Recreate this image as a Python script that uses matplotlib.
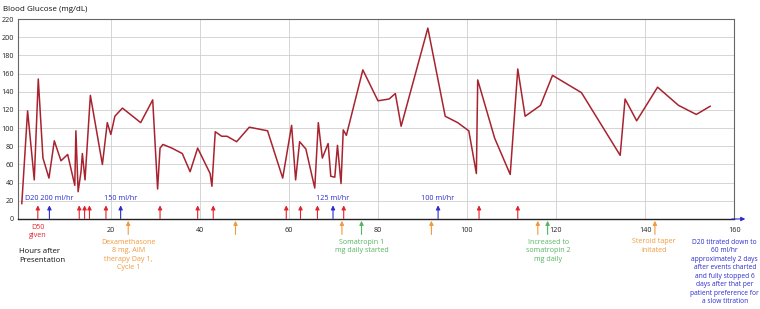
import matplotlib.pyplot as plt

plt.rcParams['font.family'] = ['Open Sans', 'DejaVu Sans']

# blood glucose readings (hours after presentation, mg/dL)
hours = [0, 1.3, 2.8, 3.7, 4.75, 6.1, 7.3, 8.8, 10.3, 11.9, 12.15, 12.65, 13.3, 13.6, 14.2,
         15.4, 18.1, 19.2, 20.0, 20.9, 22.6, 26.7, 29.4, 30.5, 31.05, 31.7, 33.7, 36.05,
         37.8, 39.5, 42.3, 42.7, 43.45, 44.9, 46.1, 48.25, 51.1, 55.2, 58.6, 60.6, 61.5,
         62.4, 63.8, 65.8, 66.6, 67.5, 68.8, 69.4, 70.3, 70.9, 71.7, 72.2, 72.9, 76.6,
         80.0, 82.5, 83.9, 85.2, 91.2, 95.1, 97.9, 100.4, 102.1, 102.4, 106.2, 109.7,
         111.4, 113.05, 116.5, 119.2, 125.7, 134.4, 135.5, 138.1, 142.8, 147.5, 151.5, 154.6]
glucose = [17, 119, 43, 154, 67, 45, 86, 64, 71, 37, 97, 30, 52, 72, 43,
           136, 60, 106, 93, 113, 122, 106, 131, 33, 78, 82, 78, 72,
           52, 78, 50, 36, 96, 91, 91, 85, 101, 97, 45, 103, 43,
           85, 77, 34, 106, 67, 83, 47, 46, 81, 39, 98, 92, 164,
           130, 132, 138, 102, 210, 113, 106, 97, 50, 153, 89, 49,
           165, 113, 125, 158, 139, 70, 132, 108, 145, 125, 115, 124]

red_events = [3.6, 12.9, 14.1, 15.2, 18.9, 31.05, 39.5, 43.0, 59.4, 62.6, 66.4, 72.3, 102.7, 111.4]
blue_events = [6.2, 22.2, 69.9, 93.5]
blue_labels = ['D20 200 ml/hr', '150 ml/hr', '125 ml/hr', '100 ml/hr']
orange_events = [23.9, 48.0, 71.9, 92.0, 115.9, 142.2]
green_events = [76.3, 118.1]

RED = '#e3222c'
BLUE = '#2b2bd0'
ORANGE = '#f09a3e'
GREEN = '#55b560'
LINE = '#a8232f'

fig = plt.figure(figsize=(7.6, 3.09), dpi=100)
ax = fig.add_axes([0.024, 0.2913, 0.942, 0.6472])

ax.plot(hours, glucose, color=LINE, lw=1.1, zorder=3)

ax.set_xlim(-0.8, 160)
ax.set_ylim(0, 220)
ax.set_xticks(range(20, 161, 20))
ax.set_yticks(range(0, 221, 20))
ax.grid(True, color='#cfcfcf', lw=0.6)
ax.set_axisbelow(True)
ax.tick_params(length=0, labelsize=5.2, colors='#222222')
ax.tick_params(axis='x', pad=6)
ax.tick_params(axis='y', pad=3)
for s in ['top', 'right', 'left']:
    ax.spines[s].set_color('#666666')
    ax.spines[s].set_linewidth(0.8)
ax.spines['bottom'].set_color('#222222')
ax.spines['bottom'].set_linewidth(1.0)


def up_arrow(t, y0, y1, c):
    ax.annotate('', xy=(t, y1), xytext=(t, y0), annotation_clip=False,
                arrowprops=dict(arrowstyle='-|>', color=c, lw=0.8, mutation_scale=6,
                                shrinkA=0, shrinkB=0))


for t in red_events:
    up_arrow(t, 0.5, 15, RED)
for t in blue_events:
    up_arrow(t, 0.5, 15, BLUE)
for t in orange_events:
    up_arrow(t, -17, -2, ORANGE)
for t in green_events:
    up_arrow(t, -17, -2, GREEN)

# x axis arrow going on past the chart
ax.annotate('', xy=(162.5, 0), xytext=(159.5, 0), annotation_clip=False,
            arrowprops=dict(arrowstyle='-|>', color=BLUE, lw=0.8, mutation_scale=6,
                            shrinkA=0, shrinkB=0))

for t, lab in zip(blue_events, blue_labels):
    ax.text(t, 23, lab, color=BLUE, fontsize=5.2, ha='center', va='center')

fs = 5.1
ax.text(3.6, -5.5, 'D50\ngiven', color=RED, fontsize=fs, ha='center', va='top', linespacing=1.3)
ax.text(-0.6, -41, 'Hours after\nPresentation', color='#111111', fontsize=5.6, ha='left', va='center',
        linespacing=1.35)
ax.text(23.9, -22, 'Dexamethasone\n8 mg, AIM\ntherapy Day 1,\nCycle 1', color=ORANGE, fontsize=fs,
        ha='center', va='top', linespacing=1.3)
ax.text(76.3, -22, 'Somatropin 1\nmg daily started', color=GREEN, fontsize=fs,
        ha='center', va='top', linespacing=1.3)
ax.text(118.3, -22, 'Increased to\nsomatropin 2\nmg daily', color=GREEN, fontsize=fs,
        ha='center', va='top', linespacing=1.3)
ax.text(142.0, -21, 'Steroid taper\ninitated', color=ORANGE, fontsize=fs,
        ha='center', va='top', linespacing=1.3)
ax.text(157.9, -22, 'D20 titrated down to\n60 ml/hr\napproximately 2 days\nafter events charted\n'
        'and fully stopped 6\ndays after that per\npatient preference for\na slow titration',
        color=BLUE, fontsize=4.8, ha='center', va='top', linespacing=1.3)

fig.text(0.004, 0.98, 'Blood Glucose (mg/dL)', fontsize=5.8, color='#111111', ha='left', va='top')

fig.savefig('out.png', dpi=100)
